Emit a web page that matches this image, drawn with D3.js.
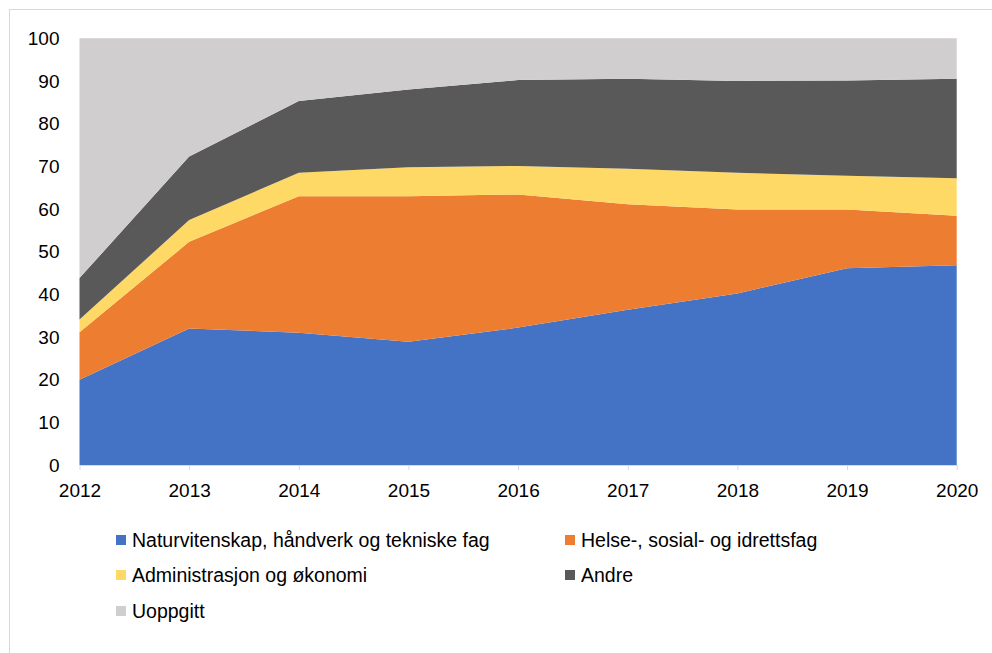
<!DOCTYPE html>
<html>
<head>
<meta charset="utf-8">
<script src="https://cdn.jsdelivr.net/npm/d3@7"></script>
<style>
  body { margin: 0; background: #fff; }
  svg { display: block; font-family: "Liberation Sans", Arial, sans-serif; }
</style>
</head>
<body>
<div id="chart"></div>
<script>
var years = [2012, 2013, 2014, 2015, 2016, 2017, 2018, 2019, 2020]
var keys = ["Naturvitenskap, håndverk og tekniske fag", "Helse-, sosial- og idrettsfag",
  "Administrasjon og økonomi", "Andre", "Uoppgitt"]
var natur = [20.0, 32.0, 31.0, 28.9, 32.2, 36.4, 40.2, 46.1, 46.8]
var helse = [11.1, 20.3, 32.0, 34.1, 31.2, 24.7, 19.7, 13.8, 11.6]
var admin = [3.0, 5.1, 5.5, 6.8, 6.7, 8.3, 8.6, 7.9, 8.8]
var andre = [9.7, 14.9, 16.8, 18.2, 20.1, 21.1, 21.5, 22.3, 23.3]
var uoppgitt = [56.2, 27.7, 14.7, 12.0, 9.8, 9.5, 10.0, 9.9, 9.5]
var yTicks = [0, 10, 20, 30, 40, 50, 60, 70, 80, 90, 100]
var colors = ["#4472C4", "#ED7D31", "#FFD966", "#595959", "#D0CECE"]

var width = 992
var height = 653
var margin = { left: 79.5, right: 35.3, top: 38.3, bottom: 188 }

var rows = years.map(function(y, i) {
  var r = { year: y }
  r[keys[0]] = natur[i]
  r[keys[1]] = helse[i]
  r[keys[2]] = admin[i]
  r[keys[3]] = andre[i]
  r[keys[4]] = uoppgitt[i]
  return r
})

var svg = d3.select("#chart").append("svg")
  .attr("width", width)
  .attr("height", height)

// card border
svg.append("rect")
  .attr("x", 9.5).attr("y", 9.5)
  .attr("width", 990).attr("height", 660)
  .attr("fill", "none")
  .attr("stroke", "#D9D9D9")

var x = d3.scaleLinear()
  .domain([2012, 2020])
  .range([margin.left, width - margin.right])

var y = d3.scaleLinear()
  .domain([0, 100])
  .range([height - margin.bottom, margin.top])

var stack = d3.stack().keys(keys)
var series = stack(rows)

var area = d3.area()
  .x(function(d) { return x(d.data.year) })
  .y0(function(d) { return y(d[0]) })
  .y1(function(d) { return y(d[1]) })

svg.selectAll("path.layer")
  .data(series)
  .enter()
  .append("path")
  .attr("class", "layer")
  .attr("d", area)
  .attr("fill", function(d, i) { return colors[i] })

// x axis
var xAxis = d3.axisBottom(x)
  .tickValues(years)
  .tickFormat(d3.format("d"))
  .tickSizeInner(5)
  .tickSizeOuter(0)
  .tickPadding(14)

var gx = svg.append("g")
  .attr("transform", "translate(0," + y(0) + ")")
  .call(xAxis)
gx.select(".domain").attr("stroke", "#D9D9D9")
gx.selectAll(".tick line").attr("stroke", "#D9D9D9")
gx.selectAll("text")
  .attr("font-size", "19px")
  .attr("fill", "#000")
  .attr("font-family", "Liberation Sans, Arial, sans-serif")

// y axis (labels only)
var yAxis = d3.axisLeft(y)
  .tickValues(yTicks)
  .tickSize(0)
  .tickPadding(20)

var gy = svg.append("g")
  .attr("transform", "translate(" + margin.left + ",0)")
  .call(yAxis)
gy.select(".domain").remove()
gy.selectAll("text")
  .attr("font-size", "19px")
  .attr("fill", "#000")
  .attr("font-family", "Liberation Sans, Arial, sans-serif")

// legend
var legendPos = [[116, 540], [565, 540], [116, 575], [565, 575], [116, 611]]

var legend = svg.selectAll("g.legend")
  .data(keys)
  .enter()
  .append("g")
  .attr("class", "legend")
  .attr("transform", function(d, i) {
    return "translate(" + legendPos[i][0] + "," + legendPos[i][1] + ")"
  })

legend.append("rect")
  .attr("x", 0)
  .attr("y", -5)
  .attr("width", 10)
  .attr("height", 10)
  .attr("fill", function(d, i) { return colors[i] })

legend.append("text")
  .attr("x", 16)
  .attr("y", 0)
  .attr("dy", "0.35em")
  .attr("font-size", "19.5px")
  .attr("fill", "#000")
  .text(function(d) { return d })
</script>
</body>
</html>
